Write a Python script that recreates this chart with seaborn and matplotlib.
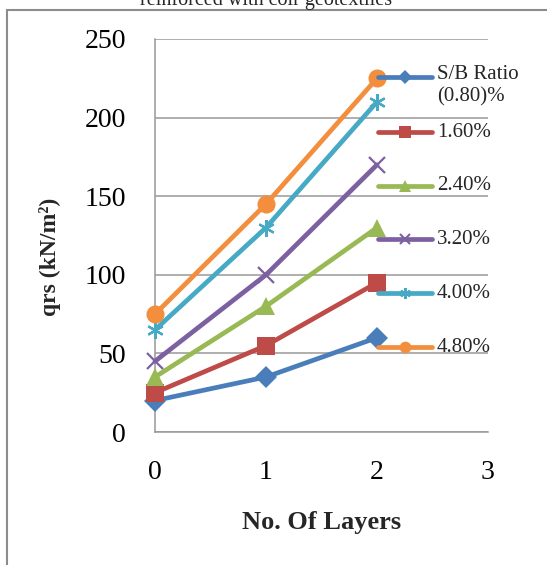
import matplotlib
matplotlib.use("Agg")
import matplotlib.pyplot as plt
import seaborn as sns
import pandas as pd
from matplotlib.lines import Line2D
from matplotlib.patches import Rectangle

layers = [0, 1, 2]
series_labels = ["S/B Ratio\n(0.80)%", "1.60%", "2.40%", "3.20%", "4.00%", "4.80%"]
vals_080 = [20, 35, 60]
vals_160 = [25, 55, 95]
vals_240 = [35, 80, 130]
vals_320 = [45, 100, 170]
vals_400 = [65, 130, 210]
vals_480 = [75, 145, 225]
all_vals = [vals_080, vals_160, vals_240, vals_320, vals_400, vals_480]
colors = ["#4A7EBB", "#BE4B48", "#98B954", "#7D60A0", "#46AAC5", "#F28E3C"]
markers = ["D", "s", "^", "x", (6, 2, 0), "o"]
msizes = [11, 13, 13, 12, 12, 13]

sns.set_theme(style="white")
plt.rcParams["font.family"] = ["Liberation Serif", "DejaVu Serif"]

fig = plt.figure(figsize=(5.47, 5.65), dpi=100)
ax = fig.add_axes([155/547, 1-432/565, (488-155)/547, (432-39)/565])

rows = []
for lab, vals in zip(series_labels, all_vals):
    for x, v in zip(layers, vals):
        rows.append({"layers": x, "qrs": v, "ratio": lab})
df = pd.DataFrame(rows)

for i, lab in enumerate(series_labels):
    sub = df[df["ratio"] == lab]
    m = markers[i]
    thin = m in ("x", (6, 2, 0))
    sns.lineplot(data=sub, x="layers", y="qrs", ax=ax, color=colors[i],
                 marker=m, markersize=msizes[i], linewidth=3.4,
                 markeredgewidth=1.6 if thin else 0,
                 markeredgecolor=colors[i], clip_on=False, zorder=3+i,
                 legend=False)

ax.set_xlim(0, 3)
ax.set_ylim(0, 250)
ax.set_xticks([0, 1, 2, 3])
ax.set_yticks([0, 50, 100, 150, 200, 250])
ax.grid(axis="y", color="#999999", linewidth=1.1)
ax.grid(axis="x", visible=False)
for s in ["top", "right"]:
    ax.spines[s].set_visible(False)
for s in ["left", "bottom"]:
    ax.spines[s].set_color("#999999")
    ax.spines[s].set_linewidth(1.1)
ax.tick_params(axis="both", which="major", direction="out", length=6,
               width=1.1, color="#999999", labelsize=20, colors="black")
ax.tick_params(axis="x", pad=14)
ax.tick_params(axis="y", pad=15)
ax.set_xlabel("No. Of Layers", fontsize=19, fontweight="bold")
ax.set_ylabel("qrs (kN/m²)", fontsize=17, fontweight="bold")
ax.xaxis.label.set_va("center")
ax.yaxis.label.set_va("center")
ax.xaxis.set_label_coords((322-155)/333, (432-522)/393)
ax.yaxis.set_label_coords((50-155)/333, (432-257)/393)
ax.patch.set_alpha(0)

# manual legend (Excel style, handle aligned to first text line)
leg_y = [77, 132, 186, 239, 293, 347]
for i, lab in enumerate(series_labels):
    yf = 1 - leg_y[i]/565
    fig.add_artist(Line2D([378/547, 432/547], [yf, yf], color=colors[i], linewidth=3.4,
                          zorder=10))
    m = markers[i]
    thin = m in ("x", (6, 2, 0))
    fig.add_artist(Line2D([405/547], [yf], color=colors[i], marker=m,
                          markersize=msizes[i]*0.65, markeredgewidth=1.5 if thin else 0,
                          markeredgecolor=colors[i], zorder=11))
    multi = "\n" in lab
    fig.text(437/547, yf + (12/565 if multi else 0), lab, fontsize=15,
             va="top" if multi else "center", ha="left", linespacing=1.2)

# outer chart frame
fig.add_artist(Rectangle((7/547, -0.1), 1.2, 1 - 10/565 + 0.1, fill=False,
                         edgecolor="#8c8c8c", linewidth=1.5, transform=fig.transFigure))
fig.text(266/547, 1 - 5/565, "reinforced with coir geotextiles", fontsize=14.5,
         ha="center", va="baseline")

fig.savefig("out.png", dpi=100)
